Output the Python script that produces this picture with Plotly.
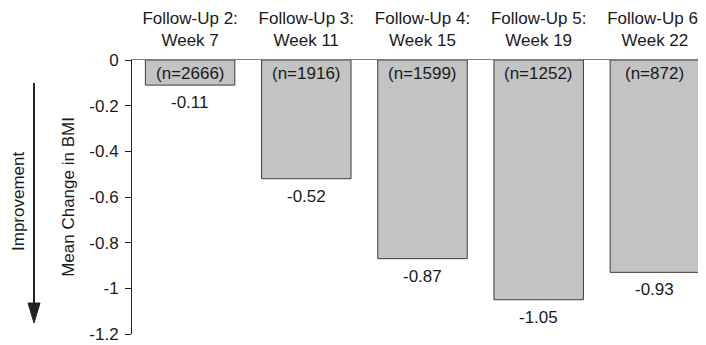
import plotly.graph_objects as go

categories = ["Follow-Up 2:<br>Week 7", "Follow-Up 3:<br>Week 11", "Follow-Up 4:<br>Week 15",
              "Follow-Up 5:<br>Week 19", "Follow-Up 6:<br>Week 22"]
mean_change = [-0.11, -0.52, -0.87, -1.05, -0.93]
n_labels = ["(n=2666)", "(n=1916)", "(n=1599)", "(n=1252)", "(n=872)"]
value_labels = ["-0.11", "-0.52", "-0.87", "-1.05", "-0.93"]
y_ticks = [0, -0.2, -0.4, -0.6, -0.8, -1.0, -1.2]
y_tick_text = ["0", "-0.2", "-0.4", "-0.6", "-0.8", "-1", "-1.2"]

FONT = "Liberation Sans, Arial, sans-serif"
TXT = "#1a1a1a"
FS = 17

# page body has an 8px margin; window-space plot box:
OFF = 8
L, R, T, B = 132, 706, 60, 334
W, H = 706 - OFF, 345 - OFF

fig = go.Figure()
fig.add_trace(go.Bar(
    x=categories, y=mean_change,
    marker=dict(color="#c3c3c4", line=dict(color="#3c3c3c", width=1)),
    hoverinfo="skip",
))

for c, v, n, lab in zip(categories, mean_change, n_labels, value_labels):
    fig.add_annotation(x=c, y=0, xref="x", yref="y", text=n, showarrow=False,
                       yanchor="top", yshift=-2, font=dict(size=FS, color=TXT, family=FONT))
    fig.add_annotation(x=c, y=v, xref="x", yref="y", text=lab, showarrow=False,
                       yanchor="top", yshift=-6, font=dict(size=FS, color=TXT, family=FONT))

def px(x):
    return (x - L) / (R - L)
def py(y):
    return (B - y) / (B - T)

fig.add_shape(type="line", xref="paper", yref="paper",
              x0=px(34), x1=px(34), y0=py(83), y1=py(305),
              line=dict(color="#222222", width=2))
fig.add_shape(type="path", xref="paper", yref="paper",
              path=f"M {px(28)} {py(303)} L {px(40)} {py(303)} L {px(34)} {py(323)} Z",
              fillcolor="#222222", line=dict(color="#222222", width=1))
fig.add_annotation(xref="paper", yref="paper", x=px(19), y=py(202), text="Improvement",
                   textangle=-90, showarrow=False, xanchor="center", yanchor="middle",
                   font=dict(size=FS, color=TXT, family=FONT))

fig.update_layout(
    width=W, height=H,
    margin=dict(l=L - OFF, r=0, t=T - OFF, b=(345 - B), pad=0, autoexpand=False),
    paper_bgcolor="white", plot_bgcolor="white",
    showlegend=False, bargap=0.23,
    font=dict(family=FONT, size=FS, color=TXT),
    xaxis=dict(side="top", type="category", range=[-0.5, 4.44], showgrid=False,
               showline=True, linecolor="#808080", linewidth=1, ticks="",
               ticklabelstandoff=6, ticklabeloverflow="allow",
               tickfont=dict(size=FS, color=TXT, family=FONT), automargin=False,
               zeroline=False, fixedrange=True),
    yaxis=dict(range=[-1.2, 0], tickvals=y_ticks, ticktext=y_tick_text, showgrid=False,
               zeroline=False, showline=True, linecolor="#222222", linewidth=1,
               ticks="outside", ticklen=6, tickcolor="#222222", ticklabelstandoff=3,
               ticklabeloverflow="allow",
               tickfont=dict(size=FS, color=TXT, family=FONT), automargin=False,
               title=dict(text="Mean Change in BMI", standoff=10,
                          font=dict(size=FS, color=TXT, family=FONT)),
               fixedrange=True),
)

fig.write_html("out.html")
